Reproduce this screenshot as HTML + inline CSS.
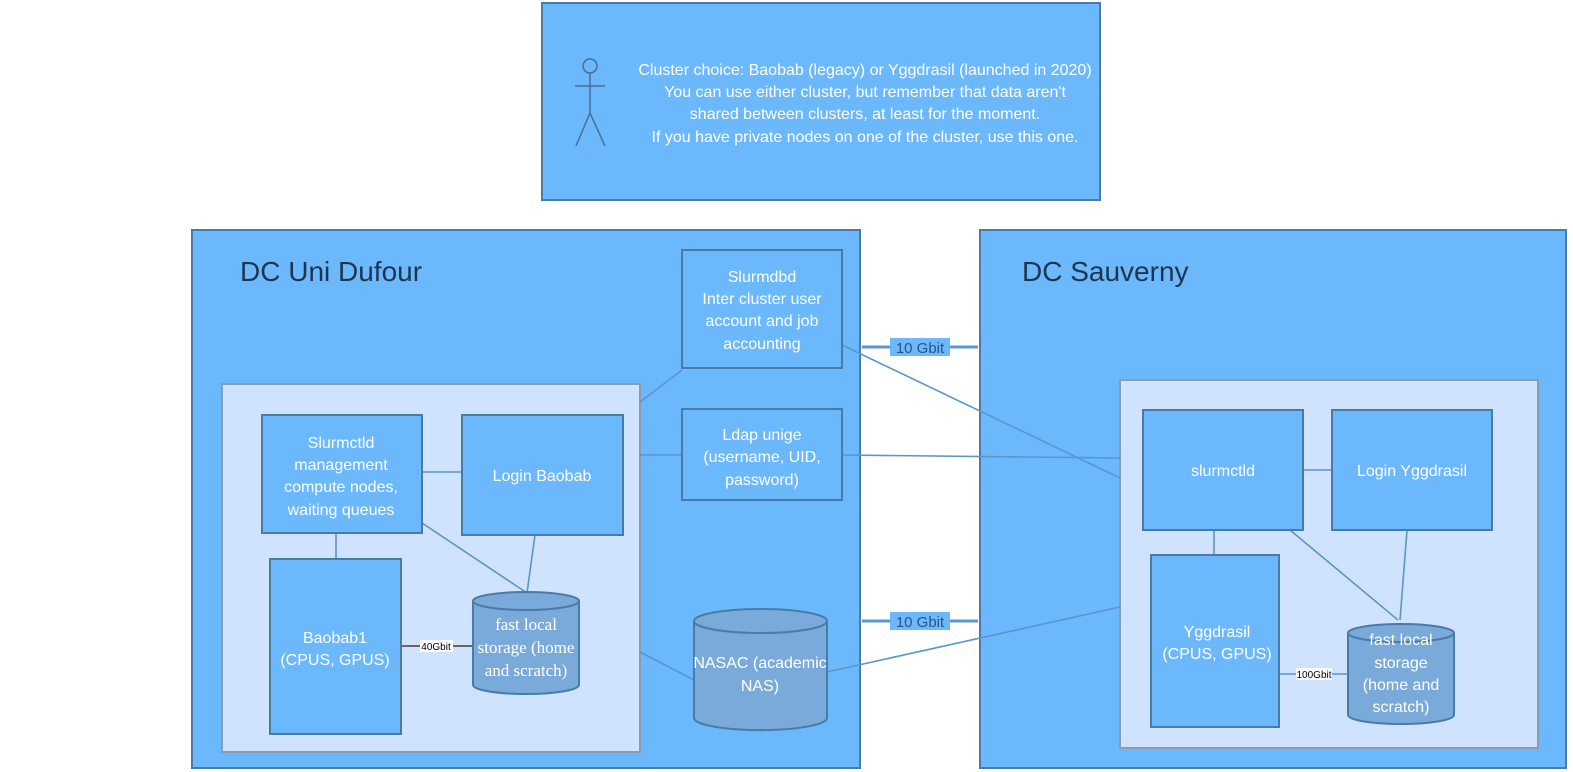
<!DOCTYPE html>
<html><head><meta charset="utf-8"><style>
html,body{margin:0;padding:0;background:#fff;}
svg{display:block;font-family:"Liberation Sans",sans-serif;}
.t{fill:#fff;font-size:16px;text-anchor:middle;}
.bx{fill:#6bb8fd;stroke:#4a7aa8;stroke-width:2;}
.in{fill:#cfe3fe;stroke:#8a9bb0;stroke-width:2;}
.ln{stroke:#5a95cc;stroke-width:1.6;fill:none;}
.cy{fill:#7aaad9;stroke:#4a7aa8;stroke-width:2;}
</style></head><body>
<svg width="1573" height="772" viewBox="0 0 1573 772">
<rect x="542" y="3" width="558" height="197" class="bx"/>
<g stroke="#4a6f95" stroke-width="1.5" fill="none">
<circle cx="590" cy="66" r="7"/><line x1="590" y1="73" x2="590" y2="113"/>
<line x1="575" y1="86" x2="605" y2="86"/><line x1="590" y1="113" x2="576" y2="146"/><line x1="590" y1="113" x2="605" y2="146"/></g>
<g class="t"><text x="865" y="75">Cluster choice: Baobab (legacy) or Yggdrasil (launched in 2020)</text>
<text x="865" y="97">You can use either cluster, but remember that data aren't</text>
<text x="865" y="119">shared between clusters, at least for the moment.</text>
<text x="865" y="142">If you have private nodes on one of the cluster, use this one.</text></g>

<rect x="192" y="230" width="668" height="538" class="bx"/>
<rect x="980" y="230" width="586" height="538" class="bx"/>
<text x="240" y="281" font-size="28" fill="#1e3550">DC Uni Dufour</text>
<text x="1022" y="281" font-size="28" fill="#1e3550">DC Sauverny</text>
<rect x="222" y="384" width="418" height="368" class="in"/>
<rect x="1120" y="380" width="418" height="368" class="in"/>

<g class="ln">
<line x1="682" y1="370" x2="640" y2="402"/>
<line x1="842" y1="345" x2="1120" y2="478"/>
<line x1="640" y1="455" x2="682" y2="455"/>
<line x1="842" y1="455" x2="1120" y2="458"/>
<line x1="640" y1="652" x2="694" y2="680"/>
<line x1="827" y1="672" x2="1120" y2="607"/>
<line x1="422" y1="472" x2="462" y2="472"/>
<line x1="336" y1="533" x2="336" y2="559"/>
<line x1="422" y1="523" x2="527" y2="593"/>
<line x1="535" y1="535" x2="527" y2="593"/>
<line x1="1303" y1="470" x2="1332" y2="470"/>
<line x1="1214" y1="530" x2="1214" y2="555"/>
<line x1="1290" y1="530" x2="1398" y2="620"/>
<line x1="1407" y1="530" x2="1400" y2="620"/>
<line x1="1279" y1="674" x2="1348" y2="674"/>
</g>
<line x1="401" y1="646" x2="472" y2="646" stroke="#666" stroke-width="2"/>
<line x1="862" y1="347" x2="978" y2="347" stroke="#5a95cc" stroke-width="3"/>
<line x1="862" y1="621" x2="978" y2="621" stroke="#5a95cc" stroke-width="3"/>
<rect x="890" y="338" width="60" height="18" fill="#6bb8fd"/>
<rect x="890" y="612" width="60" height="18" fill="#6bb8fd"/>
<text x="920" y="353" font-size="15" fill="#2a5580" text-anchor="middle">10 Gbit</text>
<text x="920" y="627" font-size="15" fill="#2a5580" text-anchor="middle">10 Gbit</text>

<rect x="682" y="250" width="160" height="118" class="bx"/>
<g class="t"><text x="762" y="282">Slurmdbd</text><text x="762" y="304">Inter cluster user</text><text x="762" y="326">account and job</text><text x="762" y="349">accounting</text></g>
<rect x="682" y="409" width="160" height="91" class="bx"/>
<g class="t"><text x="762" y="440">Ldap unige</text><text x="762" y="462">(username, UID,</text><text x="762" y="485">password)</text></g>

<path d="M694,621 v97 a66,12 0 0 0 133,0 v-97" class="cy"/><ellipse cx="760.5" cy="621" rx="66.5" ry="12" class="cy"/>
<g class="t"><text x="760" y="668">NASAC (academic</text><text x="760" y="691">NAS)</text></g>

<rect x="262" y="415" width="160" height="118" class="bx"/>
<g class="t"><text x="341" y="448">Slurmctld</text><text x="341" y="470">management</text><text x="341" y="492">compute nodes,</text><text x="341" y="515">waiting queues</text></g>
<rect x="462" y="415" width="161" height="120" class="bx"/>
<text x="542" y="481" class="t">Login Baobab</text>
<rect x="270" y="559" width="131" height="175" class="bx"/>
<g class="t"><text x="335" y="643">Baobab1</text><text x="335" y="665">(CPUS, GPUS)</text></g>
<path d="M473,601 v84 a53,9 0 0 0 106,0 v-84" class="cy"/><ellipse cx="526" cy="601" rx="53" ry="9" class="cy"/>
<g class="t" style="font-family:'Liberation Serif',serif;font-size:17px"><text x="526" y="630">fast local</text><text x="526" y="653">storage (home</text><text x="526" y="676">and scratch)</text></g>
<rect x="420" y="640" width="33" height="12" fill="#fff"/><text x="436" y="650" font-size="10" text-anchor="middle" fill="#000">40Gbit</text>

<rect x="1143" y="410" width="160" height="120" class="bx"/>
<text x="1223" y="476" class="t">slurmctld</text>
<rect x="1332" y="410" width="160" height="120" class="bx"/>
<text x="1412" y="476" class="t">Login Yggdrasil</text>
<rect x="1151" y="555" width="128" height="172" class="bx"/>
<g class="t"><text x="1217" y="637">Yggdrasil</text><text x="1217" y="659">(CPUS, GPUS)</text></g>
<path d="M1348,633 v82 a53,9 0 0 0 106,0 v-82" class="cy"/><ellipse cx="1401" cy="633" rx="53" ry="9" class="cy"/>
<g class="t"><text x="1401" y="645">fast local</text><text x="1401" y="668">storage</text><text x="1401" y="690">(home and</text><text x="1401" y="712">scratch)</text></g>
<rect x="1296" y="668" width="36" height="12" fill="#fff"/><text x="1314" y="678" font-size="10" text-anchor="middle" fill="#000">100Gbit</text>
</svg>
</body></html>
